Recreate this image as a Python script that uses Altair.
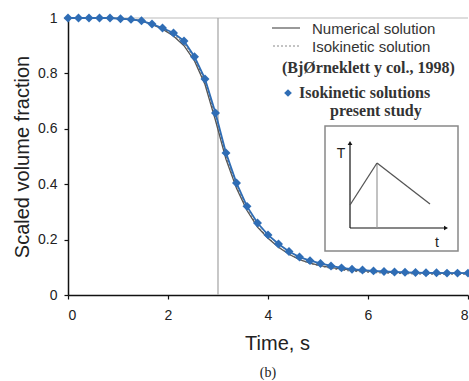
import altair as alt
import pandas as pd

# ---- data ----
time_s = [0.0, 0.21, 0.42, 0.63, 0.84, 1.05, 1.26, 1.47, 1.68, 1.89, 2.11, 2.32, 2.53,
          2.74, 2.95, 3.16, 3.37, 3.58, 3.79, 4.0, 4.21, 4.42, 4.63, 4.84, 5.05, 5.26,
          5.47, 5.68, 5.89, 6.11, 6.32, 6.53, 6.74, 6.95, 7.16, 7.37, 7.58, 7.79, 8.0]
present_study = [1.0, 1.0, 1.0, 1.0, 1.0, 0.997, 0.995, 0.99, 0.978, 0.964, 0.946, 0.917,
                 0.86, 0.78, 0.657, 0.513, 0.404, 0.32, 0.26, 0.217, 0.184, 0.157, 0.137,
                 0.124, 0.114, 0.105, 0.098, 0.093, 0.09, 0.087, 0.085, 0.083, 0.082,
                 0.081, 0.08, 0.08, 0.079, 0.079, 0.079]
numerical = [1.0, 1.0, 1.0, 1.0, 1.0, 0.998, 0.995, 0.99, 0.977, 0.96, 0.935, 0.9, 0.845,
             0.76, 0.63, 0.49, 0.385, 0.305, 0.245, 0.205, 0.172, 0.147, 0.128, 0.115,
             0.106, 0.099, 0.094, 0.09, 0.087, 0.085, 0.083, 0.082, 0.081, 0.08, 0.08,
             0.079, 0.079, 0.079, 0.079]
isokinetic = [1.0, 1.0, 1.0, 1.0, 1.0, 0.998, 0.996, 0.99, 0.98, 0.963, 0.94, 0.91, 0.855,
              0.77, 0.645, 0.5, 0.392, 0.31, 0.25, 0.207, 0.174, 0.148, 0.128, 0.114,
              0.104, 0.096, 0.09, 0.086, 0.083, 0.081, 0.079, 0.078, 0.077, 0.076, 0.075,
              0.075, 0.075, 0.075, 0.075]
x_ticks = [0, 2, 4, 6, 8]
y_ticks = [0, 0.2, 0.4, 0.6, 0.8, 1.0]
peak_time = [3.0]
top_value = [1.0]

df = pd.DataFrame({"t": time_s, "present": present_study,
                   "num": numerical, "iso": isokinetic})

SANS = "Liberation Sans"
SERIF = "Liberation Serif"
BLUE = "#2f6db5"

x_enc = alt.X("t:Q", scale=alt.Scale(domain=[0, 8], nice=False),
              axis=alt.Axis(values=x_ticks, title="Time, s", grid=False, format="d",
                            titleX=209, titleY=48, titleBaseline="middle",
                            titleAlign="center", titleFontSize=20,
                            titleFont=SANS, titleFontWeight="normal",
                            titleColor="#222", labelPadding=9))

def y_enc(field):
    return alt.Y(f"{field}:Q", scale=alt.Scale(domain=[0, 1], nice=False),
                 axis=alt.Axis(values=y_ticks, title="Scaled volume fraction",
                               grid=False, format=".1~f", titleX=-46, titleY=138.5,
                               titleAngle=270, titleBaseline="middle",
                               titleAlign="center", titleFontSize=20,
                               titleFont=SANS, titleFontWeight="normal",
                               titleColor="#222", labelPadding=7))

base = alt.Chart(df)

num_line = base.mark_line(color="#555555", strokeWidth=1.3).encode(x=x_enc, y=y_enc("num"))
iso_line = base.mark_line(color="#666666", strokeWidth=1, strokeDash=[2, 2]).encode(
    x="t:Q", y="iso:Q")
pres_line = base.mark_line(color=BLUE, strokeWidth=1.8).encode(x="t:Q", y="present:Q")
pres_pts = base.mark_point(shape="diamond", filled=True, size=80, color=BLUE,
                           opacity=1).encode(x="t:Q", y="present:Q")

vline = alt.Chart(pd.DataFrame({"t": peak_time})).mark_rule(
    color="#aaaaaa", strokeWidth=1.3).encode(x="t:Q")
hline = alt.Chart(pd.DataFrame({"v": top_value})).mark_rule(
    color="#bbbbbb", strokeWidth=1).encode(y="v:Q")

one = alt.Data(values=[{"k": 1}])

def rule(x1, y1, x2, y2, color="#555555", width=1.3, dash=None):
    kw = dict(color=color, strokeWidth=width)
    if dash:
        kw["strokeDash"] = dash
    return alt.Chart(one).mark_rule(**kw).encode(
        x=alt.value(x1), y=alt.value(y1), x2=alt.value(x2), y2=alt.value(y2))

def text(s, x, y, font=SANS, size=15, weight="normal", align="left", color="#333333"):
    return alt.Chart(one).mark_text(text=s, font=font, fontSize=size, fontWeight=weight,
                                    align=align, baseline="middle", color=color).encode(
        x=alt.value(x), y=alt.value(y))

legend = [
    rule(204, 10, 232, 10, color="#777777", width=1.5),
    rule(205, 28, 232, 28, color="#888888", width=1, dash=[2, 2]),
    text("Numerical solution", 244, 11),
    text("Isokinetic solution", 244, 29),
    text("(BjØrneklett y col., 1998)", 214, 50, font=SERIF, size=16, weight="bold",
         color="#333333"),
    alt.Chart(one).mark_point(shape="diamond", filled=True, size=60, color=BLUE,
                              opacity=1).encode(x=alt.value(220), y=alt.value(75)),
    text("Isokinetic solutions", 231, 75, font=SERIF, size=16, weight="bold"),
    text("present study", 262, 93, font=SERIF, size=16, weight="bold"),
]

inset = [
    alt.Chart(one).mark_rect(fill="white", stroke="#888888", strokeWidth=1.5).encode(
        x=alt.value(257), x2=alt.value(390), y=alt.value(108), y2=alt.value(233)),
    rule(282, 210, 282, 126, color="#111111", width=1.2),
    rule(282, 210, 376, 210, color="#111111", width=1.2),
    alt.Chart(one).mark_point(shape="triangle-up", filled=True, size=22, color="#111111",
                              opacity=1).encode(x=alt.value(282), y=alt.value(125)),
    alt.Chart(one).mark_point(shape="triangle-right", filled=True, size=22,
                              color="#111111", opacity=1).encode(
        x=alt.value(378), y=alt.value(210)),
    rule(309, 145, 309, 210, color="#999999", width=1.2),
    rule(282, 187, 309, 145, color="#555555", width=1.3),
    rule(309, 145, 362, 186, color="#555555", width=1.3),
    text("T", 273, 136, size=14, color="#222222", align="center"),
    text("t", 369, 225, size=14, color="#222222", align="center"),
]

caption = text("(b)", 200, 355, font=SERIF, size=14, color="#222222", align="center")

chart = alt.layer(
    hline, vline, num_line, iso_line, pres_line, pres_pts, *legend, *inset, caption
).properties(
    width=400, height=277,
    autosize=alt.AutoSizeParams(type="none"),
    padding={"left": 68, "top": 18, "right": 1, "bottom": 86},
    background="white",
).configure_view(stroke=None).configure_axis(
    domainColor="#111111", domainWidth=1.5, tickColor="#111111", tickWidth=1.2,
    tickSize=4, labelFont=SANS, labelFontSize=14, labelColor="#222222",
)

chart.save("out.html", embed_options={"renderer": "svg", "actions": False})
